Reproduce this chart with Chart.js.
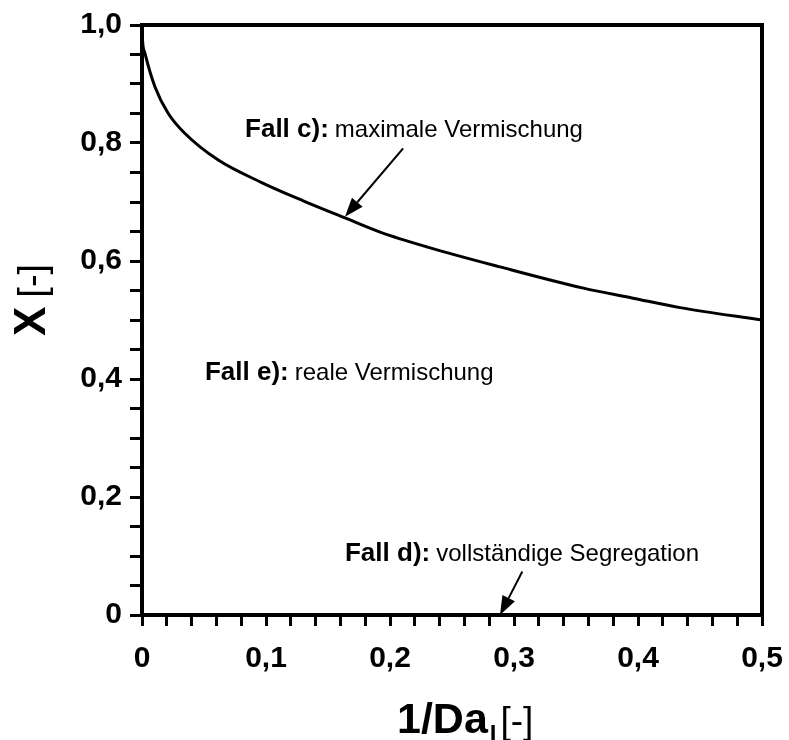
<!DOCTYPE html>
<html>
<head>
<meta charset="utf-8">
<title>Umsatz X über 1/Da</title>
<script src="https://cdn.jsdelivr.net/npm/chart.js@4"></script>
<style>
    html, body { margin: 0; padding: 0; background: #fff; }
    canvas { display: block; }
</style>
</head>
<body>
<canvas id="chart" width="789" height="740"></canvas>
<script>
// Fall c): maximale Vermischung, Umsatz über reziproker Damköhler-Zahl
const invDa = [0, 0.0004, 0.0024, 0.0105, 0.0212, 0.0347, 0.0615, 0.0965, 0.1300,
    0.1637, 0.1920, 0.2296, 0.2887, 0.3560, 0.3960, 0.4339, 0.5];
const umsatz = [1.0, 0.975, 0.952, 0.895, 0.850, 0.816, 0.771, 0.733, 0.702,
    0.673, 0.649, 0.624, 0.590, 0.554, 0.537, 0.521, 0.500];

const xTickLabels = ['0', '0,1', '0,2', '0,3', '0,4', '0,5'];
const yTickLabels = ['0', '0,2', '0,4', '0,6', '0,8', '1,0'];

// Beschriftungen im Diagramm (Datenkoordinaten der Textanfänge)
const noteBold = ['Fall c):', 'Fall e):', 'Fall d):'];
const noteText = ['maximale Vermischung', 'reale Vermischung', 'vollständige Segregation'];
const noteX = [0.0831, 0.0508, 0.1637];
const noteY = [0.8107, 0.398, 0.0915];

// Pfeile: Start und Spitze
const arrowFromX = [0.2106, 0.3067];
const arrowFromY = [0.791, 0.0737];
const arrowToX = [0.1637, 0.2887];
const arrowToY = [0.675, 0];

const FONT = "'Liberation Sans', Arial, Helvetica, sans-serif";

const labelFor = (labels, step) => (value) => {
    const i = Math.round(value / step);
    if (Math.abs(value - i * step) > 1e-6) return '';
    return labels[i] !== undefined ? labels[i] : '';
};

const framePlugin = {
    id: 'frame',
    afterDraw(chart) {
        const { ctx, chartArea } = chart;
        ctx.save();
        ctx.strokeStyle = '#000';
        ctx.lineWidth = 4;
        ctx.lineCap = 'square';
        ctx.beginPath();
        ctx.moveTo(chartArea.left, chartArea.top);
        ctx.lineTo(chartArea.right, chartArea.top);
        ctx.lineTo(chartArea.right, chartArea.bottom);
        ctx.stroke();
        ctx.restore();
    }
};

const drawArrow = (ctx, x1, y1, x2, y2) => {
    const ang = Math.atan2(y2 - y1, x2 - x1);
    const len = 19, half = 7;
    const bx = x2 - len * Math.cos(ang);
    const by = y2 - len * Math.sin(ang);
    ctx.beginPath();
    ctx.moveTo(x1, y1);
    ctx.lineTo(bx, by);
    ctx.stroke();
    ctx.beginPath();
    ctx.moveTo(x2, y2);
    ctx.lineTo(bx + half * Math.sin(ang), by - half * Math.cos(ang));
    ctx.lineTo(bx - half * Math.sin(ang), by + half * Math.cos(ang));
    ctx.closePath();
    ctx.fill();
};

const notesPlugin = {
    id: 'notes',
    afterDraw(chart) {
        const { ctx } = chart;
        const xs = chart.scales.x, ys = chart.scales.y;
        ctx.save();
        ctx.fillStyle = '#000';
        ctx.strokeStyle = '#000';
        ctx.textBaseline = 'alphabetic';
        ctx.textAlign = 'left';
        for (let i = 0; i < noteBold.length; i++) {
            const px = xs.getPixelForValue(noteX[i]);
            const py = ys.getPixelForValue(noteY[i]);
            ctx.font = 'bold 26px ' + FONT;
            ctx.fillText(noteBold[i], px, py);
            const w = ctx.measureText(noteBold[i]).width;
            ctx.font = '24px ' + FONT;
            ctx.fillText(noteText[i], px + w + 6, py);
        }
        ctx.lineWidth = 2;
        for (let i = 0; i < arrowFromX.length; i++) {
            drawArrow(ctx,
                xs.getPixelForValue(arrowFromX[i]), ys.getPixelForValue(arrowFromY[i]),
                xs.getPixelForValue(arrowToX[i]), ys.getPixelForValue(arrowToY[i]));
        }
        ctx.restore();
    }
};

// Achsentitel mit gemischten Schriftschnitten und Index
const titlesPlugin = {
    id: 'titles',
    afterDraw(chart) {
        const { ctx } = chart;
        ctx.save();
        ctx.fillStyle = '#000';
        ctx.textBaseline = 'alphabetic';
        ctx.textAlign = 'left';

        // x-Achse: 1/Da_I [-]
        let x = 397;
        const base = 733;
        ctx.font = 'bold 43px ' + FONT;
        ctx.fillText('1/Da', x, base);
        x += ctx.measureText('1/Da').width + 2;
        ctx.font = 'bold 24px ' + FONT;
        ctx.fillText('I', x, base + 9);
        x += ctx.measureText('I').width + 4;
        ctx.font = '37px ' + FONT;
        ctx.fillText('[-]', x, base);

        // y-Achse: X [-]
        ctx.translate(45, 336);
        ctx.rotate(-Math.PI / 2);
        ctx.font = 'bold 44px ' + FONT;
        ctx.fillText('X', 0, 0);
        const wx = ctx.measureText('X').width;
        ctx.font = '38px ' + FONT;
        ctx.fillText('[-]', wx + 9, 0);
        ctx.restore();
    }
};

const ctx = document.getElementById('chart').getContext('2d');

new Chart(ctx, {
    type: 'scatter',
    data: {
        datasets: [{
            label: 'Fall c)',
            data: invDa.map((v, i) => ({ x: v, y: umsatz[i] })),
            showLine: true,
            borderColor: '#000',
            borderWidth: 3,
            pointRadius: 0,
            cubicInterpolationMode: 'monotone',
            fill: false
        }]
    },
    options: {
        responsive: false,
        animation: false,
        devicePixelRatio: 1,
        layout: { padding: { top: 25, right: 27, bottom: 0, left: 0 } },
        plugins: {
            legend: { display: false },
            tooltip: { enabled: false }
        },
        scales: {
            x: {
                type: 'linear',
                min: 0,
                max: 0.5,
                afterFit: (scale) => {
                    scale.height = 125;
                    scale.paddingLeft = 0;
                    scale.paddingRight = 0;
                },
                border: { display: true, width: 4, color: '#000' },
                grid: {
                    display: true,
                    drawOnChartArea: false,
                    drawTicks: true,
                    tickLength: 11,
                    tickWidth: 3,
                    tickColor: '#000'
                },
                ticks: {
                    stepSize: 0.02,
                    autoSkip: false,
                    maxTicksLimit: 100,
                    maxRotation: 0,
                    padding: 15,
                    color: '#000',
                    font: { family: FONT, size: 30, weight: 'bold' },
                    callback: labelFor(xTickLabels, 0.1)
                }
            },
            y: {
                type: 'linear',
                min: 0,
                max: 1,
                afterFit: (scale) => {
                    scale.width = 142;
                    scale.paddingTop = 0;
                    scale.paddingBottom = 0;
                },
                border: { display: true, width: 4, color: '#000' },
                grid: {
                    display: true,
                    drawOnChartArea: false,
                    drawTicks: true,
                    tickLength: 12,
                    tickWidth: 3,
                    tickColor: '#000'
                },
                ticks: {
                    stepSize: 0.05,
                    autoSkip: false,
                    maxTicksLimit: 100,
                    padding: 8,
                    color: '#000',
                    font: { family: FONT, size: 30, weight: 'bold' },
                    callback: labelFor(yTickLabels, 0.2)
                }
            }
        }
    },
    plugins: [framePlugin, notesPlugin, titlesPlugin]
});
</script>
</body>
</html>
